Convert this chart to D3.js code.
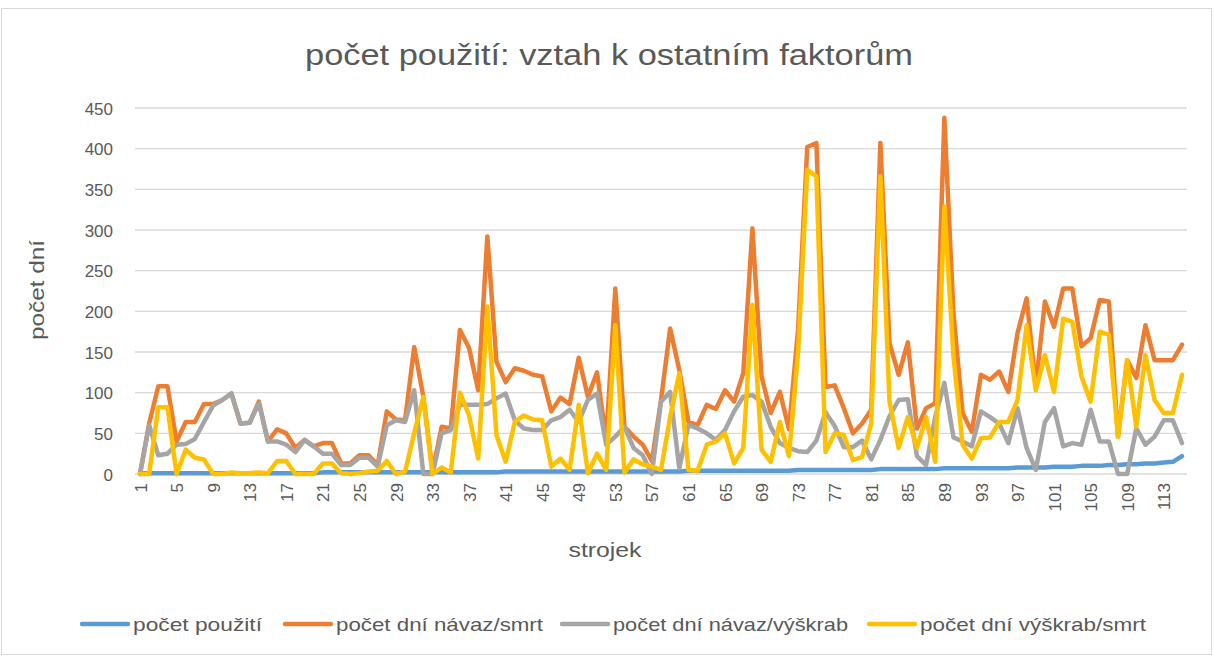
<!DOCTYPE html>
<html>
<head>
<meta charset="utf-8">
<script src="https://cdnjs.cloudflare.com/ajax/libs/d3/7.8.5/d3.min.js"></script>
<style>
  body { margin: 0; background: #fff; }
  text { font-family: "Liberation Sans", Arial, sans-serif; fill: #595959; }
</style>
</head>
<body>
<script>
// categories: strojek 1..115
var strojky = [];
for (var k = 1; k <= 115; k++) strojky.push(k);

var seriesNames = ["počet použití", "počet dní návaz/smrt", "počet dní návaz/výškrab", "počet dní výškrab/smrt"];
var seriesColors = ["#5b9bd5", "#ed7d31", "#a5a5a5", "#ffc000"];

var pouziti = [1,1,1,1,1,1,1,1,1,1, 1,1,1,1,1,1,1,1,1,1,
  2,2,2,2,2,2,2,2,2,2, 2,2,2,2,2,2,2,2,2,2,
  3,3,3,3,3,3,3,3,3,3, 3,3,3,3,3,3,3,3,3,3,
  4,4,4,4,4,4,4,4,4,4, 4,4,5,5,5,5,5,5,5,5,
  5,6,6,6,6,6,6,6,7,7, 7,7,7,7,7,7,8,8,8,8,
  9,9,9,10,10,10,11,11,12,12, 13,13,14,15,22];

var navazSmrt = [0,62,108,108,40,64,64,86,86,91, 99,62,63,89,40,55,50,32,42,34,
  38,38,13,13,23,23,11,77,67,66, 156,95,3,58,56,177,155,103,292,138,
  113,130,127,122,120,77,94,86,143,95, 125,42,228,58,46,36,16,91,179,128,
  64,60,85,80,103,89,124,302,120,75, 101,55,178,402,407,107,109,81,50,62,
  79,407,161,122,162,56,81,87,438,197, 75,52,122,116,126,101,173,216,108,212,
  181,228,228,157,167,214,212,46,140,118, 183,140,140,140,159];

var navazVyskrab = [0,60,23,25,36,37,43,64,84,91, 99,62,63,87,40,40,36,27,42,34,
  25,25,11,11,20,20,9,60,66,64, 103,0,0,50,54,85,85,85,86,93,
  99,66,56,54,54,66,70,79,64,91, 99,36,46,58,32,23,0,89,101,7,
  60,56,50,42,54,77,95,97,89,58, 38,32,28,27,41,76,59,33,33,41,
  18,42,71,91,92,22,11,70,112,45, 40,34,77,70,62,38,81,32,5,64,
  81,34,38,36,79,40,40,0,0,56, 36,46,66,66,38];

var vyskrabSmrt = [0,0,82,82,0,30,20,18,0,0, 2,1,1,2,1,16,16,0,0,0,
  13,13,1,0,1,3,4,16,0,3, 50,95,0,8,2,100,72,19,206,48,
  15,64,72,67,66,9,19,5,85,1, 25,5,183,2,18,12,9,5,70,124,
  5,4,36,40,50,13,32,208,30,15, 64,22,150,374,366,27,50,48,17,21,
  62,366,89,32,70,32,70,15,329,144, 36,19,44,45,64,64,91,183,103,146,
  101,191,187,120,89,175,171,46,140,58, 146,91,75,75,122];

var yTicks = [0, 50, 100, 150, 200, 250, 300, 350, 400, 450];
var xTickLabels = strojky.filter(function (d) { return (d - 1) % 4 === 0; });

draw_chart();

function draw_chart() {
    var w = 1214, h = 657;
    var svg = d3.select("body")
        .append("svg")
        .attr("width", w)
        .attr("height", h);

    // chart area border
    svg.append("rect")
        .attr("x", 1.5).attr("y", 8.5)
        .attr("width", 1210).attr("height", 646)
        .attr("fill", "#fff")
        .attr("stroke", "#d9d9d9");

    var x = d3.scalePoint().domain(strojky).range([140, 1182]);
    var y = d3.scaleLinear().domain([0, 450]).range([474, 108]);

    // gridlines
    svg.selectAll("line.grid")
        .data(yTicks)
        .enter()
        .append("line")
        .attr("x1", 135).attr("x2", 1187)
        .attr("y1", function (d) { return y(d); })
        .attr("y2", function (d) { return y(d); })
        .attr("stroke", "#d9d9d9")
        .attr("stroke-width", 1.3);

    // y axis labels
    var yAxis = d3.axisLeft(y).tickValues(yTicks).tickSize(0).tickPadding(0);
    var gy = svg.append("g").attr("transform", "translate(113,0)").call(yAxis);
    gy.select(".domain").remove();
    gy.selectAll("text")
        .attr("font-size", 17)
        .attr("dy", "0.36em")
        .style("fill", "#595959")
        .style("font-family", "Liberation Sans, Arial, sans-serif");

    // x axis labels, rotated
    var xAxis = d3.axisBottom(x).tickValues(xTickLabels).tickSize(0).tickPadding(0);
    var gx = svg.append("g").attr("transform", "translate(0,483)").call(xAxis);
    gx.select(".domain").remove();
    gx.selectAll("text")
        .attr("font-size", 17)
        .attr("transform", "rotate(-90)")
        .attr("text-anchor", "end")
        .attr("x", 0)
        .attr("y", 0)
        .attr("dy", "0.36em")
        .style("fill", "#595959")
        .style("font-family", "Liberation Sans, Arial, sans-serif");

    // series lines
    var allSeries = [pouziti, navazSmrt, navazVyskrab, vyskrabSmrt];
    var line = d3.line()
        .x(function (d, i) { return x(strojky[i]); })
        .y(function (d) { return y(d); });

    allSeries.forEach(function (s, j) {
        svg.append("path")
            .datum(s)
            .attr("d", line)
            .attr("fill", "none")
            .attr("stroke", seriesColors[j])
            .attr("stroke-width", 4.5)
            .attr("stroke-linejoin", "round")
            .attr("stroke-linecap", "round");
    });

    // title
    svg.append("text")
        .attr("x", 609).attr("y", 65)
        .attr("text-anchor", "middle")
        .attr("font-size", 29)
        .attr("textLength", 608)
        .attr("lengthAdjust", "spacingAndGlyphs")
        .text("počet použití: vztah k ostatním faktorům");

    // axis titles
    svg.append("text")
        .attr("transform", "translate(44,290) rotate(-90)")
        .attr("text-anchor", "middle")
        .attr("font-size", 20)
        .attr("textLength", 100)
        .attr("lengthAdjust", "spacingAndGlyphs")
        .text("počet dní");

    svg.append("text")
        .attr("x", 605).attr("y", 557)
        .attr("text-anchor", "middle")
        .attr("font-size", 20)
        .attr("textLength", 73)
        .attr("lengthAdjust", "spacingAndGlyphs")
        .text("strojek");

    // legend
    var legX = [80, 283, 560, 867];
    var legW = [129, 207, 235, 226];
    var leg = svg.selectAll("g.leg")
        .data(seriesNames)
        .enter()
        .append("g")
        .attr("transform", function (d, i) { return "translate(" + legX[i] + ",624)"; });
    leg.append("line")
        .attr("x1", 2).attr("x2", 48)
        .attr("y1", 0).attr("y2", 0)
        .attr("stroke", function (d, i) { return seriesColors[i]; })
        .attr("stroke-width", 4.5)
        .attr("stroke-linecap", "round");
    leg.append("text")
        .attr("x", 53).attr("y", 7)
        .attr("font-size", 19)
        .attr("textLength", function (d, i) { return legW[i]; })
        .attr("lengthAdjust", "spacingAndGlyphs")
        .text(function (d) { return d; });
}
</script>
</body>
</html>
